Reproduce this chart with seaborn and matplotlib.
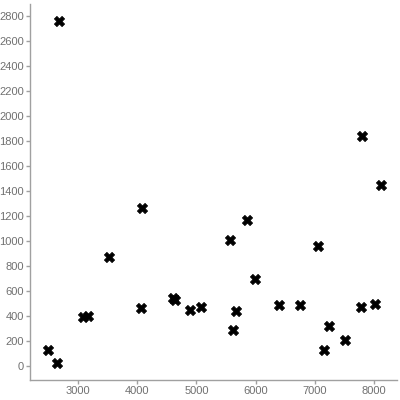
import matplotlib
matplotlib.use("Agg")
import matplotlib.pyplot as plt
import pandas as pd
import seaborn as sns

# values
x_vals = [2679, 2493, 2645, 3079, 3164, 3529, 4086, 4069, 4600, 4639, 4897,
          5078, 5568, 5860, 5995, 5674, 5618, 6395, 6750, 7054, 7155, 7245,
          7510, 7780, 8022, 7802, 8123]
y_vals = [2760, 128, 24, 390, 402, 875, 1261, 461, 547, 528, 445,
          475, 1005, 1165, 693, 437, 285, 485, 485, 957, 125, 317,
          205, 472, 493, 1840, 1448]

df = pd.DataFrame({'x': x_vals, 'y': y_vals})

sns.set_style('white')
plt.rcParams['font.family'] = ['Liberation Sans', 'DejaVu Sans']

fig = plt.figure(figsize=(4, 4), dpi=100)
ax = fig.add_axes([0.075, 0.05, 0.9175, 0.94])
sns.scatterplot(data=df, x='x', y='y', marker='X', s=55, color='black',
                edgecolor='black', linewidth=0.5, ax=ax)

ax.set_xlim(2189, 8390)
ax.set_ylim(-112, 2896)
ax.set_xticks(range(3000, 8001, 1000))
ax.set_yticks(range(0, 2801, 200))
ax.set_xlabel('')
ax.set_ylabel('')

grey = '#a0a0a0'
for side in ['top', 'right']:
    ax.spines[side].set_visible(False)
for side in ['left', 'bottom']:
    ax.spines[side].set_color(grey)
    ax.spines[side].set_linewidth(1)
ax.tick_params(axis='both', colors=grey, labelcolor='#707070', labelsize=8,
               length=3, width=1, direction='out', left=True, bottom=True, pad=1.5)

fig.savefig('out.png', dpi=100)
